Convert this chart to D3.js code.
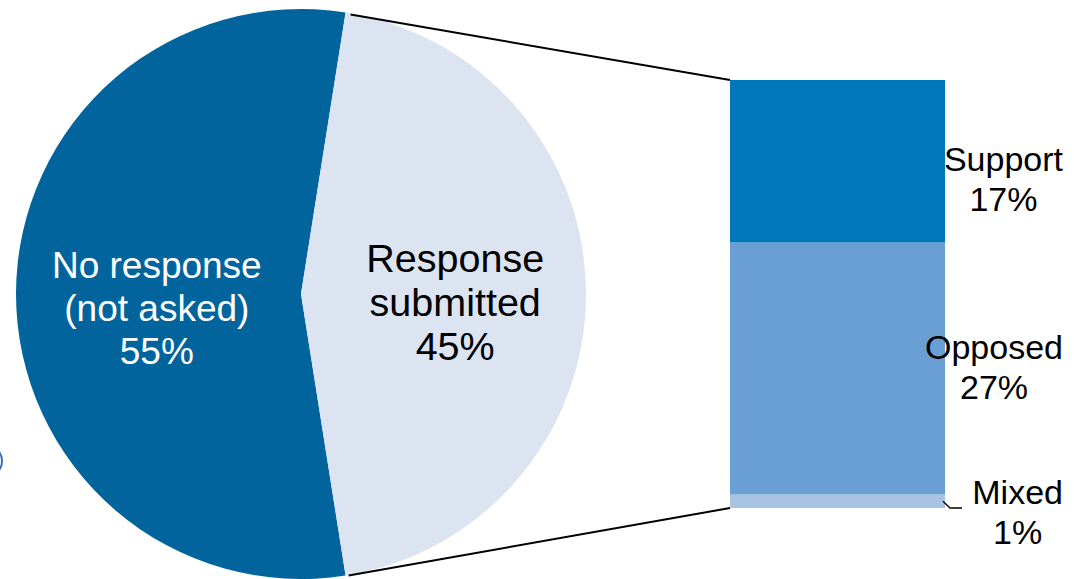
<!DOCTYPE html>
<html>
<head>
<meta charset="utf-8">
<script src="https://cdn.jsdelivr.net/npm/d3@7"></script>
<style>
  html, body { margin: 0; padding: 0; background: #ffffff; }
  svg { display: block; }
  text { font-family: "Liberation Sans", Arial, sans-serif; }
</style>
</head>
<body>
<svg id="chart" width="1077" height="579"></svg>
<script>
// ---- Data ----
const pieCategories = ["No response\n(not asked)", "Response\nsubmitted"];
const pieValues = [55, 45];
const pieLabels = ["55%", "45%"];

const barCategories = ["Support", "Opposed", "Mixed"];
const barValues = [17.1, 26.5, 1.4];
const barLabels = ["17%", "27%", "1%"];

// ---- Layout / style ----
const W = 1077, H = 579;
const cx = 301, cy = 294, R = 285;
const pieColors = ["#01649d", "#dbe4f0"];
const pieTextColors = ["#ffffff", "#000000"];
const pieFonts = [37, 39.5];
const pieLines = [43, 44];
const pieShift = [[4, 14], [6, 8]];
const barColors = ["#0077bb", "#6a9fd3", "#a9c3e3"];
const barX0 = 730, barX1 = 945, barTop = 80, barBottom = 508;
const labelRight = 1063;

const svg = d3.select("#chart");

// stray edge mark at far left
svg.append("ellipse")
  .attr("cx", -5).attr("cy", 461).attr("rx", 7).attr("ry", 11)
  .attr("fill", "none").attr("stroke", "#3a6fb0").attr("stroke-width", 2);

// ---- Pie ----
const shareLight = pieValues[1] / d3.sum(pieValues);
const start = Math.PI / 2 + Math.PI * shareLight;
const pie = d3.pie().sort(null).value(d => d)
  .startAngle(start).endAngle(start + 2 * Math.PI);
const arcs = pie(pieValues);
const arc = d3.arc().innerRadius(0).outerRadius(R);
const g = svg.append("g").attr("transform", `translate(${cx},${cy})`);
g.selectAll("path.slice").data(arcs).enter().append("path")
  .attr("class", "slice")
  .attr("d", arc)
  .attr("fill", (d, i) => pieColors[i]);

const labelArc = d3.arc().innerRadius(R * 0.52).outerRadius(R * 0.52);
arcs.forEach((d, i) => {
  const [lx0, ly0] = labelArc.centroid(d);
  const lx = lx0 + pieShift[i][0], ly = ly0 + pieShift[i][1];
  const all = pieCategories[i].split("\n").concat([pieLabels[i]]);
  const t = g.append("text")
    .attr("text-anchor", "middle")
    .attr("font-size", pieFonts[i])
    .attr("fill", pieTextColors[i]);
  const n = all.length;
  all.forEach((s, k) => {
    t.append("tspan")
      .attr("x", lx)
      .attr("y", ly + (k - (n - 1) / 2) * pieLines[i] + pieFonts[i] * 0.35)
      .text(s);
  });
});

// ---- Bar (stacked column) ----
const total = d3.sum(barValues);
const y = d3.scaleLinear().domain([0, total]).range([barTop, barBottom]);
let cum = 0;
const segs = barValues.map((v, i) => {
  const s = { i, y0: cum, y1: cum + v };
  cum += v;
  return s;
});
svg.selectAll("rect.seg").data(segs).enter().append("rect")
  .attr("class", "seg")
  .attr("x", barX0)
  .attr("width", barX1 - barX0)
  .attr("y", d => y(d.y0))
  .attr("height", d => y(d.y1) - y(d.y0))
  .attr("fill", d => barColors[d.i]);

// ---- Connector lines ----
const lightArc = arcs[1];
const pt = a => [cx + R * Math.sin(a), cy - R * Math.cos(a)];
const pTop = pt(lightArc.startAngle);
const pBot = pt(lightArc.endAngle);
svg.append("line")
  .attr("x1", pTop[0] + 5).attr("y1", pTop[1] + 2)
  .attr("x2", barX0).attr("y2", y(0))
  .attr("stroke", "#000").attr("stroke-width", 2);
svg.append("line")
  .attr("x1", pBot[0] + 3).attr("y1", pBot[1])
  .attr("x2", barX0).attr("y2", y(total))
  .attr("stroke", "#000").attr("stroke-width", 2);

// ---- Bar labels ----
const barFont = 34, barLine = 40;
const labelShift = [18, -2, 11];
segs.forEach((d, i) => {
  const mid = (y(d.y0) + y(d.y1)) / 2 + labelShift[i];
  const lines = [barCategories[i], barLabels[i]];
  const t = svg.append("text")
    .attr("text-anchor", "middle")
    .attr("font-size", barFont)
    .attr("fill", "#000");
  const spans = lines.map((s, k) => t.append("tspan")
    .attr("y", mid + (k - 0.5) * barLine + barFont * 0.35)
    .text(s));
  const maxW = d3.max(spans, sp => sp.node().getComputedTextLength());
  spans.forEach(sp => sp.attr("x", labelRight - maxW / 2));
  if (i === barValues.length - 1) {
    const ym = (y(d.y0) + y(d.y1)) / 2;
    svg.append("path")
      .attr("d", `M${barX1 - 2},${ym} L${barX1 + 5},${y(d.y1)} L${barX1 + 17},${y(d.y1)}`)
      .attr("fill", "none").attr("stroke", "#000").attr("stroke-width", 1.3);
  }
});
</script>
</body>
</html>
